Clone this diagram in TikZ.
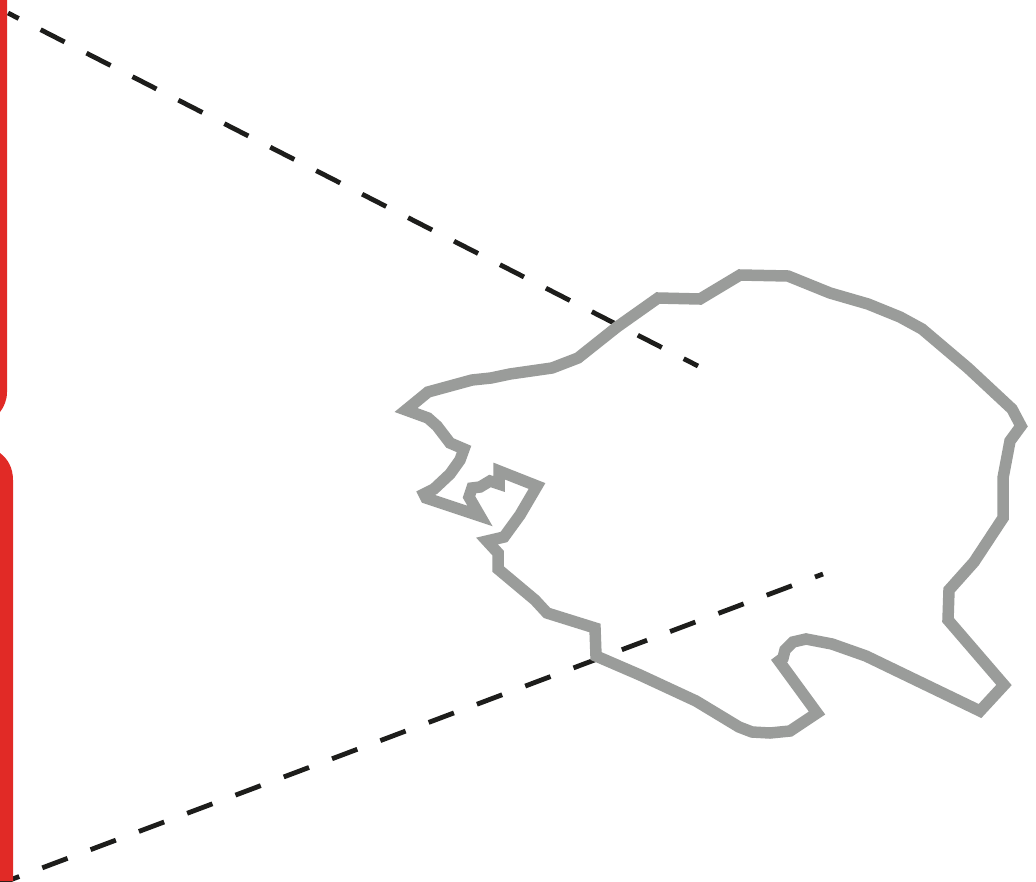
\documentclass[tikz,border=0pt]{standalone}
\definecolor{barred}{HTML}{E12A26}
\definecolor{outlinegray}{HTML}{9A9C9A}
\definecolor{dashblack}{HTML}{1D1D1B}
\tikzset{
  redbar/.style={fill=barred,draw=none},
  sightline/.style={draw=dashblack,line width=4.8pt,dash pattern=on 27pt off 24.6pt},
  outlineshape/.style={draw=outlinegray,line width=11.5pt,miter limit=10,line join=miter}
}
\begin{document}
\begin{tikzpicture}[x=1pt,y=-1pt]
\useasboundingbox (0,0) rectangle (1036,881);
\clip (0,0) rectangle (1036,881);
\fill[white] (0,0) rectangle (1036,881);
\coordinate (a1) at (8,13);
\coordinate (a2) at (698,366);
\coordinate (b1) at (-6,886);
\coordinate (b2) at (823,574);
\draw[sightline,dash phase=15pt] (a1) -- (a2);
\draw[sightline] (b1) -- (b2);
\draw[outlineshape]
 (406,410) -- (428,392) -- (472,380) -- (491,378) -- (510,374) -- (552,368) -- (578,358)
 -- (617,327) -- (658,298) -- (700,299) -- (740,275) -- (788,276) -- (830,293) -- (868,304)
 -- (900,317) -- (922,329) -- (968,368) -- (1012,409) -- (1021,426) -- (1010,441)
 -- (1003,478) -- (1003,518) -- (974,562) -- (949,590) -- (948,620) -- (1004,685)
 -- (980,711) -- (866,656) -- (832,644) -- (806,639) -- (793,642) -- (785,650)
 -- (783,658) -- (779,661) -- (817,713) -- (790,731) -- (770,733) -- (752,732)
 -- (739,727) -- (696,701) -- (640,675) -- (596,656) -- (595,628) -- (547,613)
 -- (535,600) -- (498,569) -- (498,553) -- (487,541) -- (504,537) -- (520,515)
 -- (537,486) -- (499,471) -- (499,484) -- (490,481) -- (480,487) -- (472,488)
 -- (469,497) -- (480,516) -- (426,498) -- (424,494) -- (434,489) -- (450,474)
 -- (460,460) -- (464,449) -- (450,443) -- (437,426) -- (428,418) -- cycle;
\path[redbar] (0,0) -- (7,0) -- (7,392) .. controls (7,400) and (4,407) .. (0,412) -- cycle;
\path[redbar] (0,453) .. controls (8,459) and (13,468) .. (13,480) -- (13,881) -- (0,881) -- cycle;
\end{tikzpicture}
\end{document}
